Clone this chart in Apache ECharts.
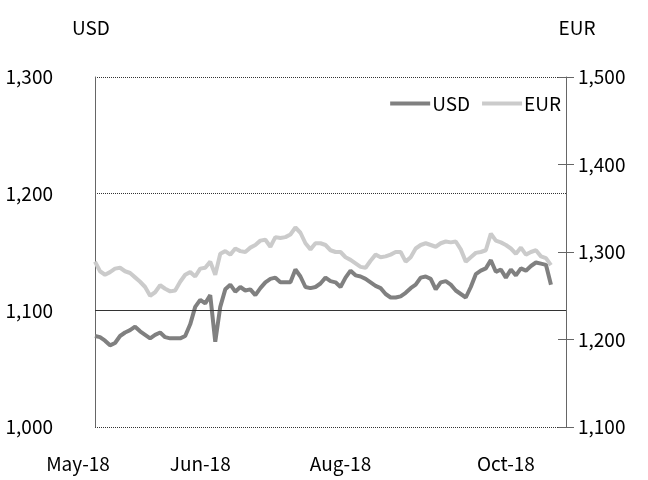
<!DOCTYPE html>
<html>
<head>
<meta charset="utf-8">
<script src="https://cdn.jsdelivr.net/npm/echarts@6/dist/echarts.min.js"></script>
<style>
  html, body { margin: 0; padding: 0; background: #fff; }
  #main { width: 648px; height: 480px; }
</style>
</head>
<body>
<div id="main"></div>
<script>
// USD (left axis) and EUR (right axis)
const usd = [
  1078, 1077, 1074, 1070, 1072, 1078, 1081, 1083, 1086, 1082,
  1079, 1076, 1079, 1081, 1077, 1076, 1076, 1076, 1078, 1088,
  1103, 1109, 1106, 1113, 1073, 1103, 1118, 1122, 1116, 1120,
  1117, 1118, 1113, 1119, 1124, 1127, 1128, 1124, 1124, 1124,
  1135, 1129, 1120, 1119, 1120, 1123, 1128, 1125, 1124, 1120,
  1128, 1134, 1130, 1129, 1127, 1124, 1121, 1119, 1114, 1111,
  1111, 1112, 1115, 1119, 1122, 1128, 1129, 1127, 1118, 1124,
  1125, 1122, 1117, 1114, 1111, 1120, 1131, 1134, 1136, 1143,
  1133, 1135, 1128, 1135, 1130, 1136, 1134, 1138, 1141, 1140,
  1139, 1122
];
const eur = [
  1289, 1278, 1274, 1277, 1281, 1282, 1278, 1276, 1271, 1266,
  1260, 1250, 1254, 1262, 1258, 1255, 1256, 1266, 1274, 1277,
  1272, 1281, 1282, 1289, 1274, 1298, 1301, 1297, 1304, 1301,
  1300, 1305, 1308, 1313, 1314, 1306, 1317, 1316, 1317, 1320,
  1328, 1322, 1310, 1303, 1310, 1310, 1308, 1302, 1300, 1300,
  1294, 1291, 1287, 1283, 1282, 1290, 1297, 1294, 1295, 1297,
  1300, 1300, 1289, 1294, 1304, 1308, 1310, 1308, 1306, 1310,
  1312, 1311, 1312, 1303, 1289, 1294, 1299, 1300, 1302, 1321,
  1313, 1311, 1308, 1304, 1298, 1305, 1297, 1300, 1302, 1295,
  1293, 1285
];
const tickIdx = [0, 21, 49, 82];
const tickLabels = ['May-18', 'Jun-18', 'Aug-18', 'Oct-18'];
const cats = usd.map((_, i) => String(i));

const font = 'Noto Sans CJK KR';
const fs = 19;
const chart = echarts.init(document.getElementById('main'), null, {renderer: 'canvas'});

chart.setOption({
  animation: false,
  backgroundColor: '#fff',
  textStyle: {fontFamily: font},
  legend: {
    right: 82,
    top: 89,
    itemWidth: 40,
    itemHeight: 4,
    itemGap: 12,
    textStyle: {fontFamily: font, fontSize: fs, color: '#000', padding: [0, 0, 0, -3]},
    data: [
      {name: 'USD', icon: 'rect'},
      {name: 'EUR', icon: 'rect'}
    ]
  },
  grid: {left: 95, right: 82, top: 77, bottom: 53},
  xAxis: {
    type: 'category',
    data: cats,
    boundaryGap: false,
    max: 94,
    axisLine: {show: false},
    axisTick: {show: false},
    splitLine: {show: false},
    axisLabel: {
      interval: 0,
      margin: 27,
      color: '#000',
      fontFamily: font,
      fontSize: fs,
      formatter: function (v, i) {
        const k = tickIdx.indexOf(i);
        if (k < 0) return '';
        return k === 0 ? '{a|' + tickLabels[k] + '}' : tickLabels[k];
      },
      rich: {
        a: {fontFamily: font, fontSize: fs, color: '#000', padding: [0, 34, 0, 0]}
      }
    }
  },
  yAxis: [
    {
      type: 'value',
      min: 1000,
      max: 1300,
      interval: 100,
      position: 'left',
      name: 'USD',
      nameLocation: 'end',
      nameGap: 40,
      nameTextStyle: {color: '#000', fontFamily: font, fontSize: fs, padding: [0, 8, 0, 0]},
      axisLine: {show: true, lineStyle: {color: '#666', width: 1}},
      axisTick: {show: false},
      axisLabel: {
        color: '#000', fontFamily: font, fontSize: fs, margin: 42,
        formatter: v => v.toLocaleString('en-US')
      },
      splitLine: {show: true, lineStyle: {color: '#333', type: [1, 1], width: 1}}
    },
    {
      type: 'value',
      min: 1100,
      max: 1500,
      interval: 100,
      position: 'right',
      name: 'EUR',
      nameLocation: 'end',
      nameGap: 40,
      nameTextStyle: {color: '#000', fontFamily: font, fontSize: fs, padding: [0, 0, 0, 22]},
      axisLine: {show: true, lineStyle: {color: '#666', width: 1}},
      axisTick: {show: true, length: 8, lineStyle: {color: '#666'}},
      axisLabel: {
        color: '#000', fontFamily: font, fontSize: fs, margin: 12,
        formatter: v => v.toLocaleString('en-US')
      },
      splitLine: {show: false}
    },
    {
      // inner half of the crossing ticks on the right axis
      type: 'value',
      min: 1100,
      max: 1500,
      interval: 100,
      position: 'right',
      axisLine: {show: false},
      axisTick: {show: true, inside: true, length: 8, lineStyle: {color: '#666'}},
      axisLabel: {show: false},
      splitLine: {show: false}
    }
  ],
  series: [
    {
      name: 'USD',
      type: 'line',
      yAxisIndex: 0,
      data: usd,
      symbol: 'none',
      itemStyle: {color: '#808080'},
      lineStyle: {color: '#808080', width: 4},
      z: 3,
      markLine: {
        silent: true,
        symbol: 'none',
        label: {show: false},
        lineStyle: {color: '#333', type: 'solid', width: 1},
        data: [{yAxis: 1100}]
      }
    },
    {
      name: 'EUR',
      type: 'line',
      yAxisIndex: 1,
      data: eur,
      symbol: 'none',
      itemStyle: {color: '#cbcbcb'},
      lineStyle: {color: '#cbcbcb', width: 4},
      z: 2
    }
  ]
});
</script>
</body>
</html>
